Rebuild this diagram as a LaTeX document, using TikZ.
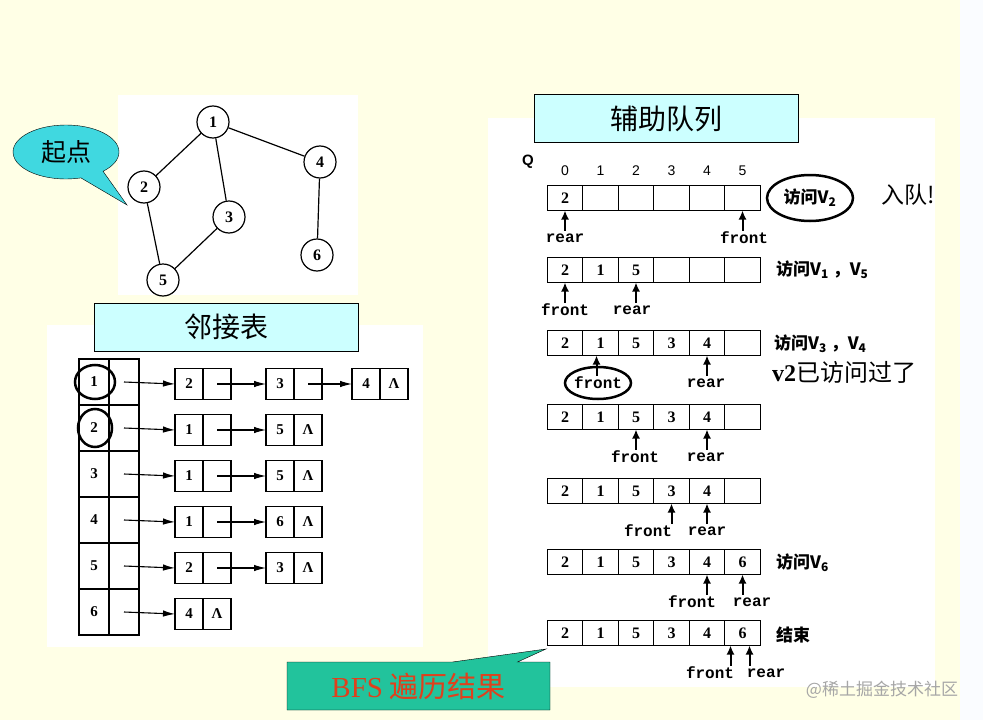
\documentclass[tikz,border=0pt]{standalone}
\usepackage{fontspec}
\setmainfont{Liberation Serif}
\setsansfont{Liberation Sans}
\setmonofont{Liberation Mono}
\newfontfamily\cjk{Noto Sans CJK SC}
\usepackage{tikz}
\usetikzlibrary{shapes.geometric,shapes.callouts,arrows.meta,positioning}
\definecolor{paleyellow}{HTML}{FFFFE6}
\definecolor{stripwhite}{HTML}{FAFCFF}
\definecolor{titlecyan}{HTML}{CCFFFF}
\definecolor{calloutcyan}{HTML}{40D8E0}
\definecolor{calloutgreen}{HTML}{22C39C}
\definecolor{resultred}{HTML}{E0401C}

\begin{document}
\begin{tikzpicture}[x=1pt,y=-1pt,
  vertex/.style={circle,draw,line width=1.2pt,minimum size=32pt,inner sep=0pt,font=\fontsize{16}{16}\selectfont\bfseries},
  edge/.style={line width=1.2pt},
  titlebox/.style={draw,fill=titlecyan,line width=0.8pt,minimum width=264pt,minimum height=48pt,font=\cjk\fontsize{28}{28}\selectfont},
  tcell/.style={draw,line width=1.2pt,minimum width=30pt,minimum height=46pt,inner sep=0pt,outer sep=0pt,font=\fontsize{15}{15}\selectfont\bfseries},
  lcell/.style={draw,line width=1.2pt,minimum width=28pt,minimum height=31pt,inner sep=0pt,outer sep=0pt,font=\fontsize{15}{15}\selectfont\bfseries},
  link/.style={line width=1.1pt,-{Latex[length=12pt,width=6.5pt]}},
  qcell/.style={draw,line width=1.2pt,minimum width=35.5pt,minimum height=25pt,inner sep=0pt,outer sep=0pt,font=\fontsize{16}{16}\selectfont\bfseries},
  qarrow/.style={line width=2pt,-{Latex[length=9pt,width=8pt]}},
  ptrlabel/.style={font=\ttfamily\bfseries\fontsize{16}{16}\selectfont,inner sep=0pt},
  note/.style={anchor=west,inner sep=0pt,font=\cjk\bfseries\fontsize{17}{17}\selectfont},
  ring/.style={ellipse,draw,line width=2.5pt,inner sep=0pt}]
\fill[paleyellow] (0,0) rectangle (960,720);
\fill[stripwhite] (960,0) rectangle (983,720);
\useasboundingbox (0,0) rectangle (983,720);
\fill[white] (118,95) rectangle (358,295);
\fill[white] (47,325) rectangle (423,647);
\fill[white] (488,118) rectangle (935,687);

\foreach \id/\px/\py in {1/213/122,2/144/187,3/229/217,4/320/162,5/163/280,6/317/255}
  \node[vertex] (v\id) at (\px,\py) {\id};
\foreach \a/\b in {1/2,1/3,1/4,2/5,3/5,4/6}
  \draw[edge] (v\a) -- (v\b);
\coordinate (starttip) at (127,205);
\node[ellipse callout,draw,fill=calloutcyan,minimum width=106pt,minimum height=54pt,callout pointer arc=28,
  callout absolute pointer={(starttip)},font=\cjk\fontsize{25}{25}\selectfont] (start) at (66,152) {起点};

\node[titlebox] (adjtitle) at (226,327) {邻接表};
\foreach \r in {1,...,6} {
  \node[tcell] (h\r) at (94,336+46*\r) {\r};
  \node[tcell] (p\r) at (124,336+46*\r) {};
}
\node[ring,minimum width=40pt,minimum height=34pt] (mark1) at (95,382) {};
\node[ring,minimum width=34pt,minimum height=38pt] (mark2) at (95,428) {};
\foreach \r/\c/\cx/\val/\last in {1/1/189/2/0,1/2/280/3/0,1/3/366/4/1,2/1/189/1/0,2/2/280/5/1,
    3/1/189/1/0,3/2/280/5/1,4/1/189/1/0,4/2/280/6/1,5/1/189/2/0,5/2/280/3/1,6/1/189/4/1} {
  \node[lcell] (d\r-\c) at (\cx,338+46*\r) {\val};
  \node[lcell,right=0pt of d\r-\c] (n\r-\c) {\ifnum\last=1\relax Λ\fi};
}
\foreach \r in {1,...,6}
  \draw[link] (p\r.center) -- (d\r-1.west);
\foreach \r/\c/\n in {1/1/2,1/2/3,2/1/2,3/1/2,4/1/2,5/1/2}
  \draw[link] (n\r-\c.center) -- (d\r-\n.west);

\node[titlebox] (qtitle) at (666,118.5) {辅助队列};
\node[font=\sffamily\bfseries\fontsize{15}{15}\selectfont] (qname) at (528,162) {Q};
\foreach \i in {0,...,5}
  \node[font=\sffamily\fontsize{14}{14}\selectfont] (idx\i) at (565+35.5*\i,171) {\i};
\foreach \r/\y/\n in {1/198/1,2/270/3,3/343/5,4/417/5,5/491/5,6/562/6,7/633/6} {
  \coordinate (row\r) at (0,\y);
  \foreach \v [count=\k from 0] in {2,1,5,3,4,6}
    \node[qcell] (q\r-\k) at (565+35.5*\k,\y) {\ifnum\k<\n\relax \v\fi};
}
\foreach \r/\k/\dx/\tag/\word/\lx in {1/0/0/r/rear/565,1/5/0/f/front/744,2/0/0/f/front/565,2/2/0/r/rear/632,
    3/1/-4/f/front/598,3/4/0/r/rear/706,4/2/0/f/front/635,4/4/0/r/rear/706,5/3/0/f/front/648,5/4/0/r/rear/707,
    6/4/0/f/front/692,6/5/0/r/rear/752,7/5/-12/f/front/710,7/5/7/r/rear/766} {
  \coordinate (tail\r\tag) at ([xshift=\dx pt,yshift=-20pt]q\r-\k.south);
  \draw[qarrow] (tail\r\tag) -- ([xshift=\dx pt]q\r-\k.south);
  \node[ptrlabel,yshift=-40pt] (lab\r\tag) at (\lx,0 |- row\r) {\word};
}
\node[ring,minimum width=66pt,minimum height=32pt] (frontmark) at (lab3f.center) {};
\node[ring,minimum width=86pt,minimum height=46pt,font=\cjk\bfseries\fontsize{17}{17}\selectfont] (visit2) at (810,198) {访问\textbf{V\textsubscript{2}}};
\node[anchor=west,inner sep=0pt,font=\cjk\fontsize{23}{23}\selectfont] (enqueue) at (881,195) {入队!};
\node[note] (visit15) at (776,270) {访问\textbf{V\textsubscript{1}} ，\textbf{V\textsubscript{5}}};
\node[note] (visit34) at (774,344) {访问\textbf{V\textsubscript{3}} ，\textbf{V\textsubscript{4}}};
\node[anchor=west,inner sep=0pt,font=\cjk\fontsize{24}{24}\selectfont] (visited) at (772,372) {{\rmfamily\bfseries v2}已访问过了};
\node[note] (visit6) at (776,563) {访问\textbf{V\textsubscript{6}}};
\node[note] (finish) at (776,635) {结束};

\coordinate (bfstip) at (546,649);
\node[rectangle callout,draw,fill=calloutgreen,minimum width=263pt,minimum height=48pt,callout pointer width=65pt,
  callout absolute pointer={(bfstip)},text=resultred,font=\cjk\fontsize{29}{29}\selectfont] (bfs) at (418.5,686) {{\rmfamily BFS} 遍历结果};
\node[text=black!35,font=\cjk\fontsize{17}{17}\selectfont] (watermark) at (882,690) {@稀土掘金技术社区};
\end{tikzpicture}
\end{document}
